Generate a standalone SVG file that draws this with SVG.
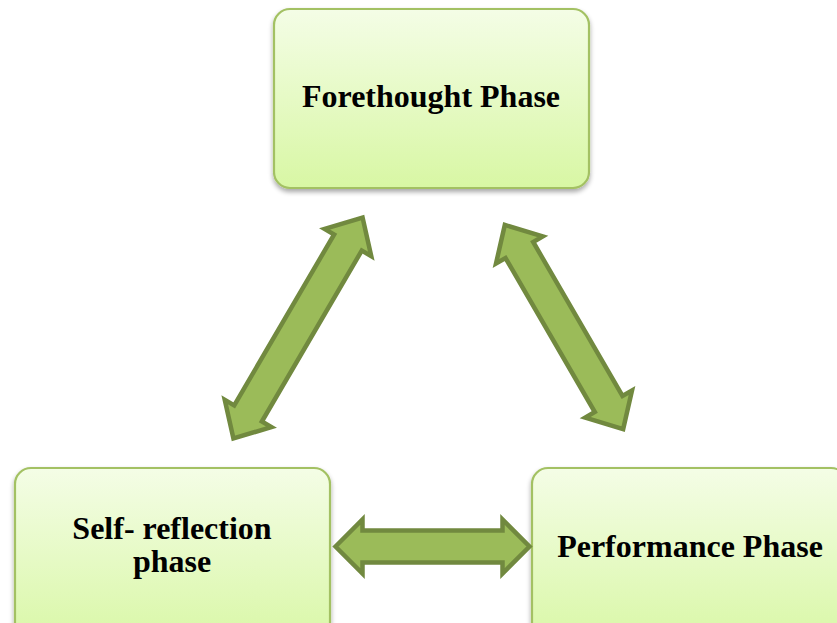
<svg xmlns="http://www.w3.org/2000/svg" width="837" height="623" viewBox="0 0 837 623">
  <defs>
    <linearGradient id="boxFill" x1="0" y1="0" x2="0" y2="1">
      <stop offset="0" stop-color="#f4fde6"/>
      <stop offset="1" stop-color="#d8f7a4"/>
    </linearGradient>
    <filter id="shadow" x="-10%" y="-10%" width="120%" height="125%">
      <feGaussianBlur in="SourceAlpha" stdDeviation="2.5"/>
      <feOffset dx="0" dy="3" result="b"/>
      <feComponentTransfer><feFuncA type="linear" slope="0.35"/></feComponentTransfer>
      <feMerge><feMergeNode/><feMergeNode in="SourceGraphic"/></feMerge>
    </filter>
  </defs>
  <style>
    .box { fill: url(#boxFill); stroke: #a3c163; stroke-width: 2.2; filter: url(#shadow); }
    .label { font-family: "Liberation Serif", "Times New Roman", serif; font-weight: bold; font-size: 32px; fill: #000; text-anchor: middle; }
    .arrow { fill: #9bbb59; stroke: #71893f; stroke-width: 4.5; stroke-linejoin: miter; }
  </style>
  <rect width="837" height="623" fill="#ffffff"/>

  <g id="forethought">
    <rect class="box" x="274" y="9" width="315" height="179" rx="16"/>
    <text class="label" x="431" y="107">Forethought Phase</text>
  </g>

  <g id="self-reflection">
    <rect class="box" x="15" y="468" width="315" height="182" rx="16"/>
    <text class="label" x="172" y="539">Self- reflection</text>
    <text class="label" x="172" y="572">phase</text>
  </g>

  <g id="performance">
    <rect class="box" x="532" y="468" width="315" height="182" rx="16"/>
    <text class="label" x="690" y="557">Performance Phase</text>
  </g>

  <g id="connectors">
    <!-- self-reflection <-> forethought -->
    <path class="arrow" transform="translate(298 328) rotate(-59.7)" d="M -128,0 L -99,-27 L -99,-16 L 99,-16 L 99,-27 L 128,0 L 99,27 L 99,16 L -99,16 L -99,27 Z"/>
    <!-- forethought <-> performance -->
    <path class="arrow" transform="translate(564 327) rotate(59.9)" d="M -118,0 L -89,-27 L -89,-16 L 89,-16 L 89,-27 L 118,0 L 89,27 L 89,16 L -89,16 L -89,27 Z"/>
    <!-- self-reflection <-> performance -->
    <path class="arrow" transform="translate(432.5 546.5)" d="M -97,0 L -70,-27 L -70,-16 L 70,-16 L 70,-27 L 97,0 L 70,27 L 70,16 L -70,16 L -70,27 Z"/>
  </g>
</svg>
